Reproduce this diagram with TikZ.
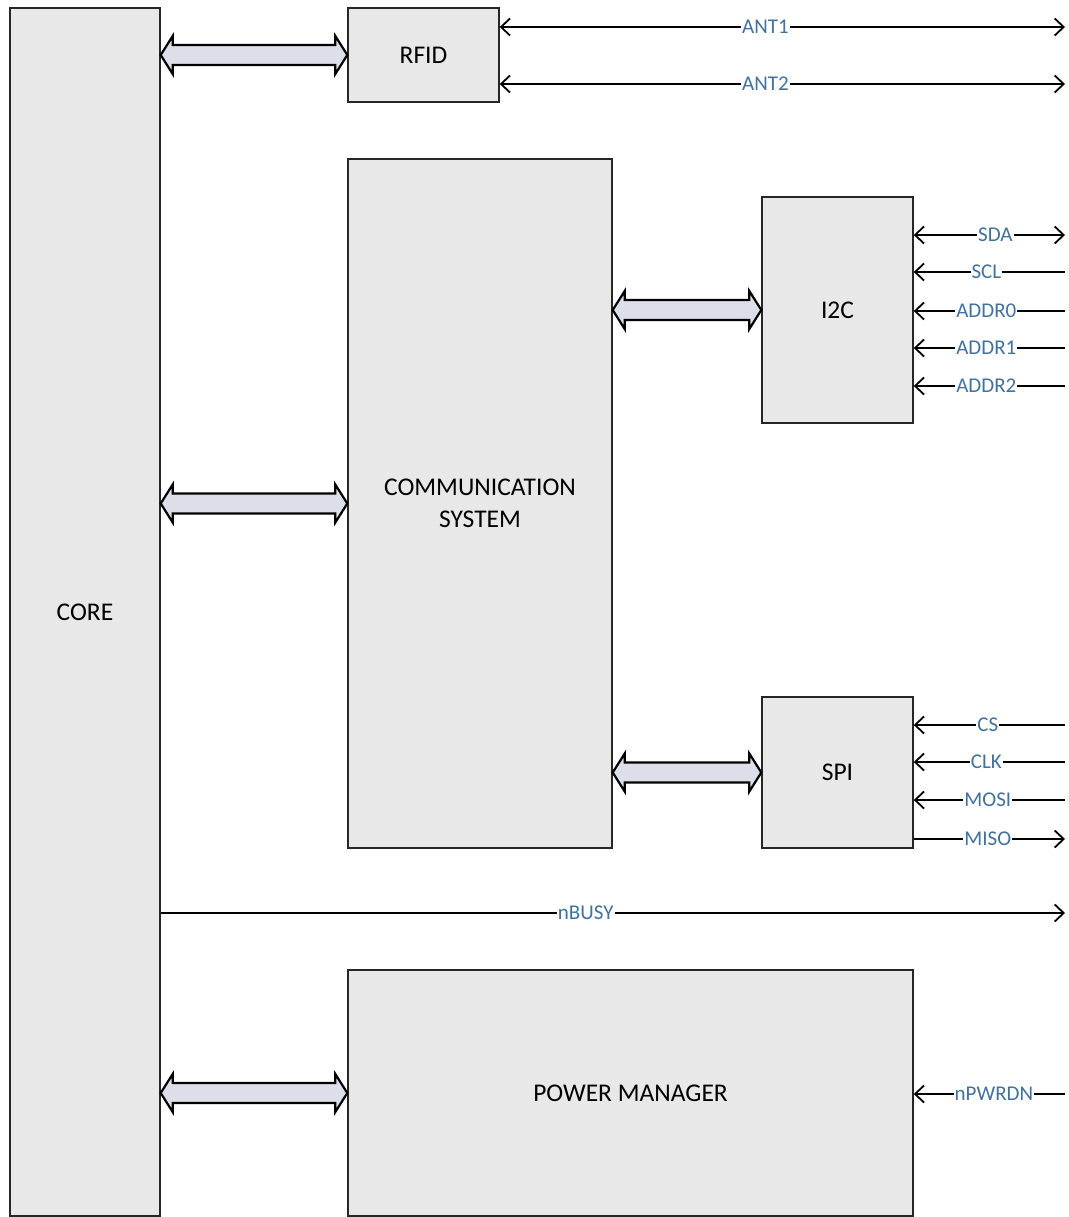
\documentclass[tikz,border=0pt]{standalone}
\usepackage{fontspec}
\setmainfont{Carlito}
\usetikzlibrary{arrows.meta,calc}
\definecolor{boxgray}{HTML}{E8E8E8}
\definecolor{buslav}{HTML}{DEDEEA}
\definecolor{sigblue}{HTML}{41719C}
\newcommand\busarr[2]{%
  \draw[busstyle] let \p1=(#1), \p2=(#2) in
   (\x1,\y1) -- (\x1+12pt,\y1+19pt) -- (\x1+12pt,\y1+10pt) -- (\x2-12pt,\y1+10pt)
   -- (\x2-12pt,\y1+19pt) -- (\x2,\y1) -- (\x2-12pt,\y1-19pt) -- (\x2-12pt,\y1-10pt)
   -- (\x1+12pt,\y1-10pt) -- (\x1+12pt,\y1-19pt) -- cycle;}
\begin{document}
\begin{tikzpicture}[x=1pt,y=-1pt,
  blk/.style={draw=black!85, line width=1.4pt, fill=boxgray, font=\fontsize{25.5}{32}\selectfont, align=center, inner sep=0pt},
  busstyle/.style={draw=black, line width=2.2pt, fill=buslav, line join=miter},
  sig/.style={line width=1.8pt, arrows={Straight Barb[length=9pt,width=17pt,line width=1.8pt]-Straight Barb[length=9pt,width=17pt,line width=1.8pt]}},
  sigin/.style={line width=1.8pt, arrows={Straight Barb[length=9pt,width=17pt,line width=1.8pt]-}},
  sigout/.style={line width=1.8pt, arrows={-Straight Barb[length=9pt,width=17pt,line width=1.8pt]}},
  lbl/.style={fill=white, text=sigblue, inner sep=1pt, font=\fontsize{21}{24}\selectfont}]
\useasboundingbox (0,0) rectangle (1068,1217);
% blocks
\node[blk, minimum width=150pt, minimum height=1208pt] (core) at (85,612) {CORE};
\node[blk, minimum width=151pt, minimum height=94pt] (rfid) at (423.5,55) {RFID};
\node[blk, minimum width=264pt, minimum height=689pt] (comm) at (480,503.5) {COMMUNICATION\\SYSTEM};
\node[blk, minimum width=151pt, minimum height=226pt] (i2c) at (837.5,310) {I2C};
\node[blk, minimum width=151pt, minimum height=151pt] (spi) at (837.5,772.5) {SPI};
\node[blk, minimum width=565pt, minimum height=246pt] (pwr) at (630.5,1093) {POWER MANAGER};
% bus arrows
\busarr{core.east |- rfid.west}{rfid.west}
\busarr{core.east |- comm.west}{comm.west}
\busarr{comm.east |- i2c.west}{i2c.west}
\busarr{comm.east |- spi.west}{spi.west}
\busarr{core.east |- pwr.west}{pwr.west}
% free ends
\coordinate (ant1) at (1065,27);
\coordinate (ant2) at (1065,84);
\coordinate (sda) at (1065,235);
\coordinate (scl) at (1065,272);
\coordinate (addr0) at (1065,311);
\coordinate (addr1) at (1065,348);
\coordinate (addr2) at (1065,386);
\coordinate (cs) at (1065,725);
\coordinate (clk) at (1065,762);
\coordinate (mosi) at (1065,800);
\coordinate (miso) at (1065,839);
\coordinate (nbusy) at (1065,913);
\coordinate (npwrdn) at (1065,1094);
% signals
\draw[sig] (rfid.east |- ant1) -- node[lbl, pos=0.47] {ANT1} (ant1);
\draw[sig] (rfid.east |- ant2) -- node[lbl, pos=0.47] {ANT2} (ant2);
\draw[sig] (i2c.east |- sda) -- node[lbl, pos=0.54] {SDA} (sda);
\draw[sigin] (i2c.east |- scl) -- node[lbl, pos=0.48] {SCL} (scl);
\draw[sigin] (i2c.east |- addr0) -- node[lbl, pos=0.48] {ADDR0} (addr0);
\draw[sigin] (i2c.east |- addr1) -- node[lbl, pos=0.48] {ADDR1} (addr1);
\draw[sigin] (i2c.east |- addr2) -- node[lbl, pos=0.48] {ADDR2} (addr2);
\draw[sigin] (spi.east |- cs) -- node[lbl, pos=0.49] {CS} (cs);
\draw[sigin] (spi.east |- clk) -- node[lbl, pos=0.48] {CLK} (clk);
\draw[sigin] (spi.east |- mosi) -- node[lbl, pos=0.49] {MOSI} (mosi);
\draw[sigout] (spi.east |- miso) -- node[lbl, pos=0.49] {MISO} (miso);
\draw[sigout] (core.east |- nbusy) -- node[lbl, pos=0.47] {nBUSY} (nbusy);
\draw[sigin] (pwr.east |- npwrdn) -- node[lbl, pos=0.53] {nPWRDN} (npwrdn);
\end{tikzpicture}
\end{document}
